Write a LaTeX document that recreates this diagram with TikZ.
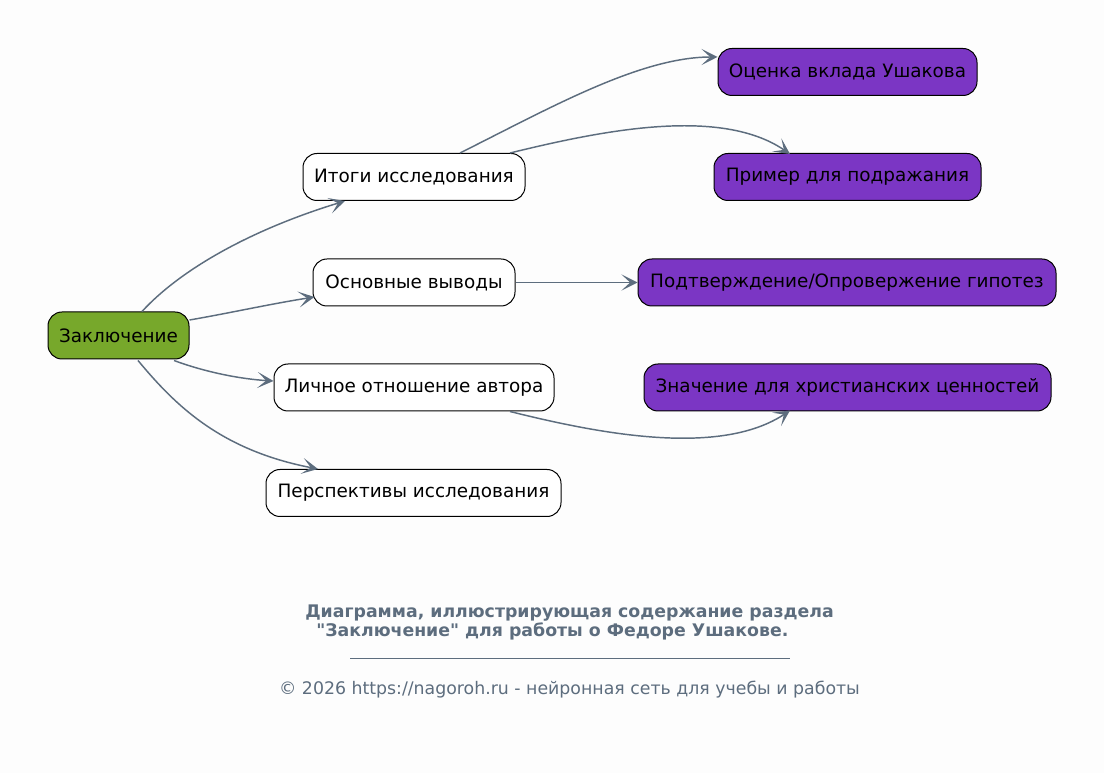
\documentclass[tikz,border=0pt]{standalone}
\usepackage{fontspec}
\setmainfont{DejaVu Sans}[Ligatures=TeXOff]
\usetikzlibrary{arrows.meta,calc}
\definecolor{edgec}{HTML}{5D6D7E}
\definecolor{zgreen}{HTML}{77A82B}
\definecolor{vpurple}{HTML}{7B36C4}
\definecolor{bgc}{HTML}{FDFDFD}
\begin{document}
\begin{tikzpicture}[x=0.75pt,y=-0.75pt,
  box/.style={draw=black, line width=0.75pt, rounded corners=10.5pt,
    minimum height=35.25pt, minimum width={#1*0.75pt}, inner sep=0pt,
    font=\fontsize{13.8}{16}\selectfont, text=black},
  rootbox/.style={box=#1, fill=zgreen},
  midbox/.style={box=#1, fill=white},
  leafbox/.style={box=#1, fill=vpurple},
  conn/.style={draw=edgec, line width=1.1pt,
    -{Stealth[length=12pt, width=12pt, inset=6.5pt]}},
  foot/.style={text=edgec, font=\fontsize{13}{15}\selectfont, inner sep=0pt}]
\fill[bgc] (0,0) rectangle (1104,773);
\useasboundingbox (0,0) rectangle (1104,773);

\node[rootbox=141] (z) at (118.5,335.5) {Заключение};
\node[midbox=222] (it) at (414,177) {Итоги исследования};
\node[midbox=202] (ov) at (414,282.5) {Основные выводы};
\node[midbox=280] (li) at (414,387.5) {Личное отношение автора};
\node[midbox=295] (pe) at (413.5,493) {Перспективы исследования};
\node[leafbox=259] (oc) at (847.5,72) {Оценка вклада Ушакова};
\node[leafbox=267] (pr) at (847.5,177) {Пример для подражания};
\node[leafbox=418] (pg) at (847,282.5) {Подтверждение/Опровержение гипотез};
\node[leafbox=407] (zn) at (847.5,387.5) {Значение для христианских ценностей};

\draw[conn] ($(z.north)+(23.5,0)$) .. controls (180,270) and (250,230) .. ($(it.south)+(-69,0)$);
\draw[conn] ($(z.east)+(0,-15.5)$) .. controls (230,313) and (270,304) .. ($(ov.west)+(2,14.5)$);
\draw[conn] ($(z.south)+(55.5,1)$) .. controls (205,372) and (240,379) .. ($(li.west)+(0,-6.5)$);
\draw[conn] ($(z.south)+(19.5,1)$) .. controls (175,405) and (220,450) .. ($(pe.north)+(-95.5,0)$);
\draw[conn] ($(it.north)+(46,0)$) .. controls (550,108) and (640,57) .. ($(oc.west)+(0,-15)$);
\draw[conn] ($(it.north)+(96,0)$) .. controls (600,131) and (720,106) .. ($(pr.north)+(-57.5,1)$);
\draw[conn] (ov.east) -- (pg.west);
\draw[conn] ($(li.south)+(96,0)$) .. controls (600,434) and (720,457) .. ($(zn.south)+(-57.5,-1)$);

\node[foot, font=\fontsize{13}{15}\selectfont\bfseries] (t1) at (569.5,613) {Диаграмма, иллюстрирующая содержание раздела};
\node[foot, font=\fontsize{13}{15}\selectfont\bfseries, anchor=west] (t2) at (316,631) {"Заключение" для работы о Федоре Ушакове.};
\coordinate (s1) at (350,658);
\coordinate (s2) at (790,658);
\draw[edgec, line width=0.75pt] (s1) -- (s2);
\node[foot] (cp) at (569.5,690) {© 2026 https://nagoroh.ru - нейронная сеть для учебы и работы};
\end{tikzpicture}
\end{document}
